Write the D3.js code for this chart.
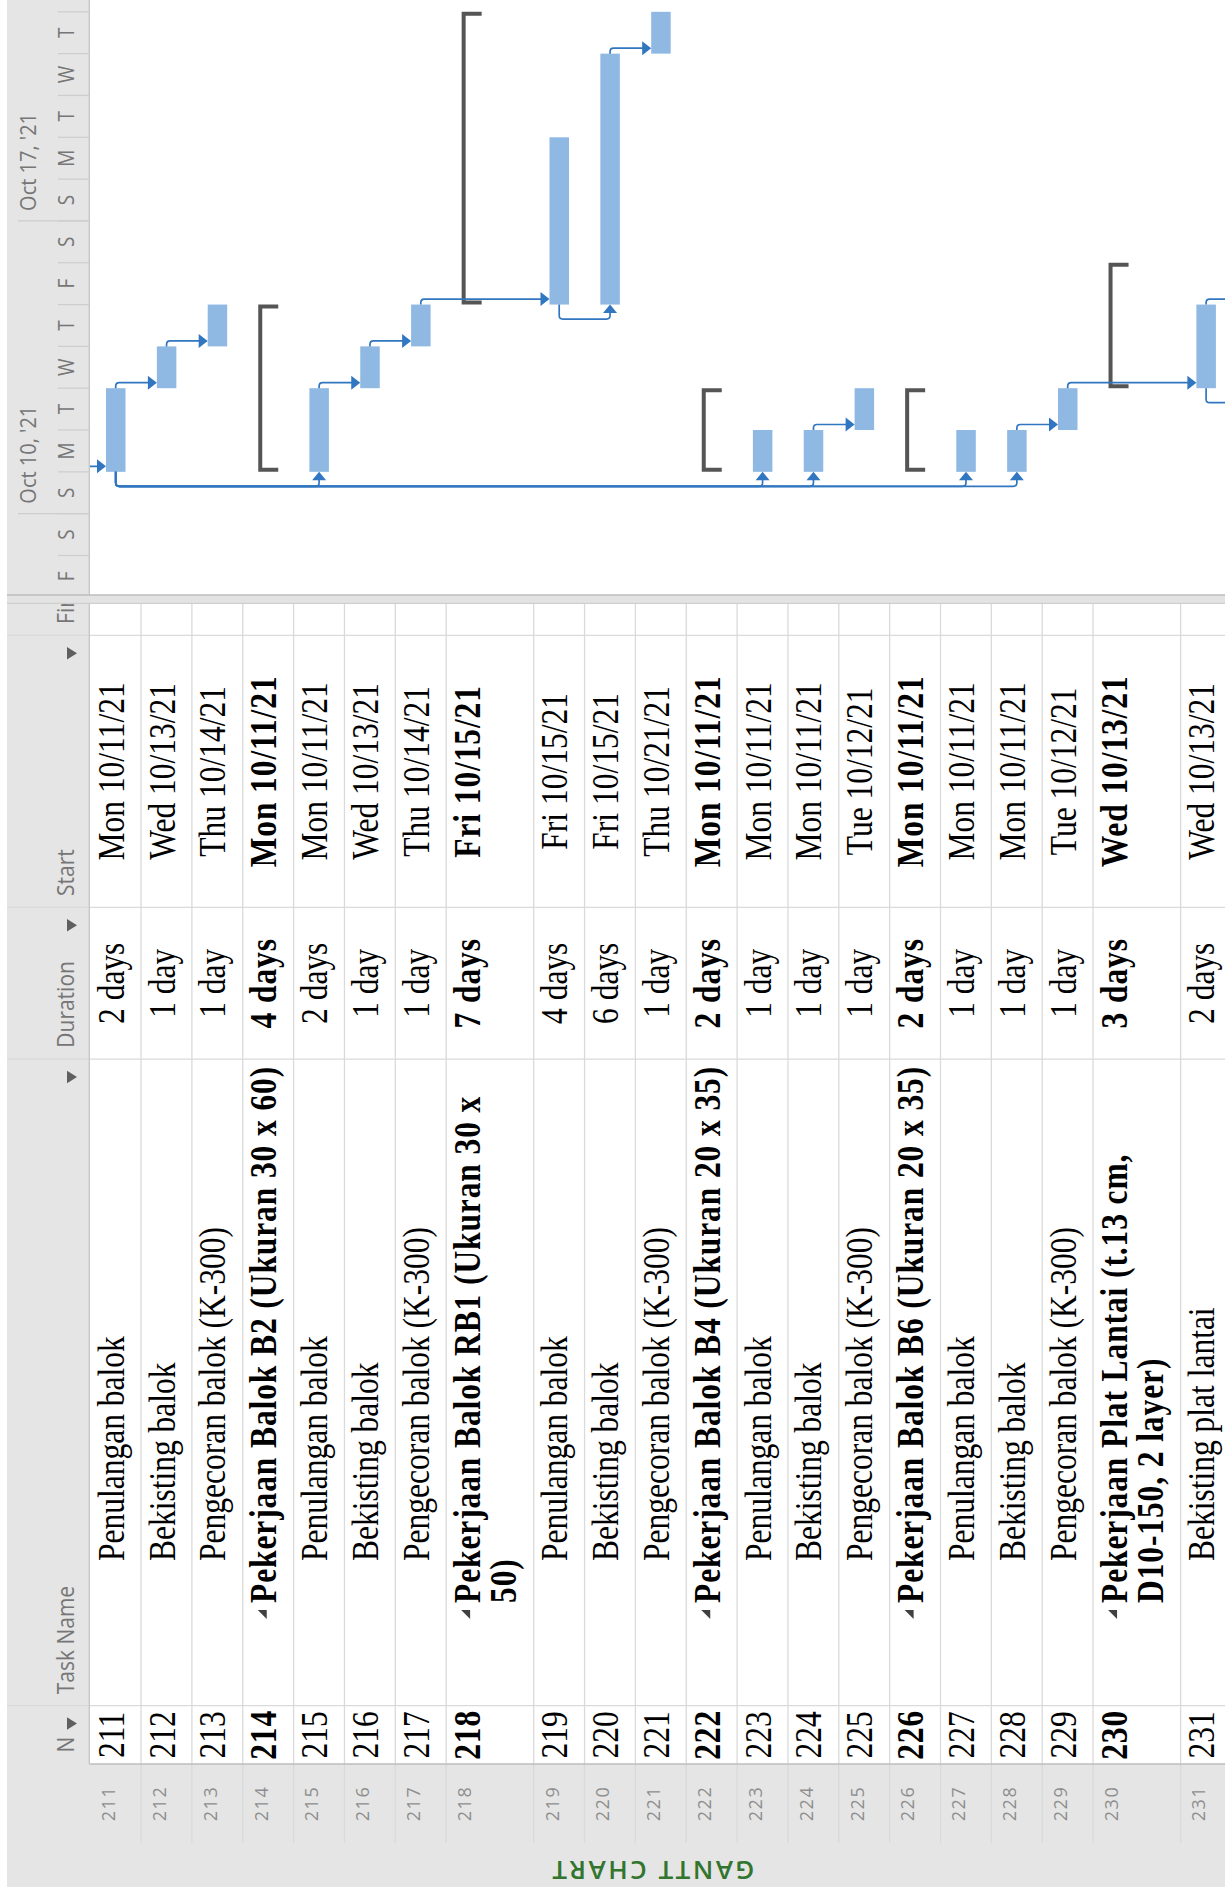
<!DOCTYPE html>
<html>
<head>
<meta charset="utf-8">
<title>Gantt chart</title>
<script src="https://cdn.jsdelivr.net/npm/d3@7"></script>
<style>
  html, body { margin: 0; padding: 0; background: #fff; }
  svg { display: block; }
  .serif { font-family: "Liberation Serif", "Times New Roman", serif; font-size: 31.5px; fill: #000; }
  .bold { font-weight: bold; letter-spacing: 0.9px; }
  .ui { font-family: "Open Sans", "Noto Sans", sans-serif; }
</style>
</head>
<body>
<svg id="chart" width="1225" height="1894"></svg>
<script>
// table rows
const taskIds = [211, 212, 213, 214, 215, 216, 217, 218, 219, 220, 221, 222, 223, 224, 225, 226, 227, 228, 229, 230, 231];
const taskNames = [
  "Penulangan balok", "Bekisting balok", "Pengecoran balok (K-300)",
  "Pekerjaan Balok B2 (Ukuran 30 x 60)", "Penulangan balok", "Bekisting balok", "Pengecoran balok (K-300)",
  "Pekerjaan Balok RB1 (Ukuran 30 x\n50)", "Penulangan balok", "Bekisting balok", "Pengecoran balok (K-300)",
  "Pekerjaan Balok B4 (Ukuran 20 x 35)", "Penulangan balok", "Bekisting balok", "Pengecoran balok (K-300)",
  "Pekerjaan Balok B6 (Ukuran 20 x 35)", "Penulangan balok", "Bekisting balok", "Pengecoran balok (K-300)",
  "Pekerjaan Plat Lantai (t.13 cm,\nD10-150, 2 layer)", "Bekisting plat lantai"
];
const durations = [2, 1, 1, 4, 2, 1, 1, 7, 4, 6, 1, 2, 1, 1, 1, 2, 1, 1, 1, 3, 2];
const startDates = ["10/11/21", "10/13/21", "10/14/21", "10/11/21", "10/11/21", "10/13/21", "10/14/21",
  "10/15/21", "10/15/21", "10/15/21", "10/21/21", "10/11/21", "10/11/21", "10/11/21", "10/12/21",
  "10/11/21", "10/11/21", "10/11/21", "10/12/21", "10/13/21", "10/13/21"];
const summaryIds = [214, 218, 222, 226, 230];

// tasks just outside the visible rows (only their links show)
const offIds = [210, 232, 233];
const offStarts = ["10/08/21", "10/15/21", "10/13/21"];
const offDurations = [3, 1, 1];

// dependency links
const fsLinks = [[210, 211], [211, 212], [212, 213], [215, 216], [216, 217], [217, 219], [220, 221],
  [224, 225], [228, 229], [229, 231], [231, 232]];
const ssLinks = [[211, 215], [211, 223], [211, 224], [211, 227], [211, 228], [219, 220], [231, 233]];

// timescale
const axisStart = "10/08/21", axisEnd = "10/22/21";
const dayLetters = ["F", "S", "S", "M", "T", "W", "T", "F", "S", "S", "M", "T", "W", "T"];
const weekLabels = ["Oct 10, '21", "Oct 17, '21"];
const headerLabels = ["N", "Task Name", "Duration", "Start", "Finish"];

const parseDate = d3.utcParse("%m/%d/%y");
const fmtStart = d3.utcFormat("%a %m/%d/%y");

// screen is drawn upright then turned a quarter to the left
const W = 1894, H = 1225;
const SY = 1.18; // the screenshot is stretched vertically
const FIRST_ROW = 90.2, ROW_H = 50.85, LINE_H = 36.7;
const HEAD_Y0 = 7, HEAD_Y1 = 89.3;
const sideX0 = 7, gutterX0 = 51, idX0 = 130, nameX0 = 188.3, durX0 = 834.8, startX0 = 986.6, finX0 = 1258.6, splitX0 = 1290.7, tlX0 = 1299;
const colStarts = [idX0, nameX0, durX0, startX0, finX0];
const colEnds = [nameX0, durX0, startX0, finX0, 1330];
const GRAY = "#e5e5e5", GRID = "#dadada", BAR = "#8fb9e3", LINK = "#3176c0", UI_TEXT = "#767676";

const svg = d3.select("#chart");
const defs = svg.append("defs");
defs.append("clipPath").attr("id", "clip-tbl").append("rect")
  .attr("x", 0).attr("y", 0).attr("width", splitX0).attr("height", H);
defs.append("clipPath").attr("id", "clip-head").append("rect")
  .attr("x", tlX0).attr("y", 0).attr("width", W - tlX0).attr("height", H);
defs.append("clipPath").attr("id", "clip-tl").append("rect")
  .attr("x", tlX0).attr("y", HEAD_Y1 + 0.7).attr("width", W - tlX0).attr("height", H);

const g = svg.append("g").attr("transform", `translate(0,${W}) rotate(-90)`);

function put(sel, x, y, str, cls, anchor, sy) {
  return sel.append("text").attr("class", cls).attr("text-anchor", anchor || "start")
    .attr("transform", `translate(${x},${y}) scale(1,${sy || SY})`).text(str);
}

// rows with their heights
let yCursor = FIRST_ROW;
const rows = taskIds.map((id, i) => {
  const lines = taskNames[i].split("\n");
  const start = parseDate(startDates[i]);
  const r = { id, lines, dur: durations[i], start, end: d3.utcDay.offset(start, durations[i]),
    summary: summaryIds.includes(id), top: yCursor, h: ROW_H + (lines.length - 1) * LINE_H };
  yCursor += r.h;
  return r;
});
const lastTop = yCursor;
const offRows = offIds.map((id, i) => {
  const start = parseDate(offStarts[i]);
  const top = id < taskIds[0] ? FIRST_ROW - (taskIds[0] - id) * ROW_H
    : lastTop + (id - taskIds[taskIds.length - 1] - 1) * ROW_H;
  return { id, start, end: d3.utcDay.offset(start, offDurations[i]), top };
});
const byId = new Map(rows.concat(offRows).map(r => [r.id, r]));

const x = d3.scaleUtc()
  .domain([parseDate(axisStart), parseDate(axisEnd)])
  .range([1296.7, 1296.7 + 14 * 41.82]);

// backgrounds
g.append("rect").attr("width", W).attr("height", H).attr("fill", "#fff");
g.append("rect").attr("x", sideX0).attr("y", HEAD_Y0).attr("width", W - sideX0).attr("height", HEAD_Y1 - HEAD_Y0).attr("fill", GRAY);
g.append("rect").attr("x", sideX0).attr("y", HEAD_Y0).attr("width", idX0 - sideX0).attr("height", H).attr("fill", GRAY);

// table grid
const tbl = g.append("g").attr("clip-path", "url(#clip-tbl)");
tbl.selectAll(".rowline").data(rows).join("line")
  .attr("x1", gutterX0).attr("x2", splitX0)
  .attr("y1", d => d.top + d.h).attr("y2", d => d.top + d.h)
  .attr("stroke", GRID).attr("stroke-width", 1.3);
tbl.selectAll(".colline").data(colStarts.slice(1)).join("line")
  .attr("x1", d => d).attr("x2", d => d).attr("y1", HEAD_Y0).attr("y2", H)
  .attr("stroke", GRID).attr("stroke-width", 1.3);
tbl.append("line").attr("x1", idX0).attr("x2", idX0).attr("y1", HEAD_Y1).attr("y2", H)
  .attr("stroke", "#bdbdbd").attr("stroke-width", 1.3);
g.append("line").attr("x1", idX0).attr("x2", W).attr("y1", HEAD_Y1).attr("y2", HEAD_Y1)
  .attr("stroke", "#c4c4c4").attr("stroke-width", 1.3);

// column headers
headerLabels.forEach((lab, i) => {
  put(tbl, colStarts[i] + 11.5, 74, lab, "ui", "start", 1.15)
    .style("font-size", "21px").style("fill", UI_TEXT);
  const r = colEnds[i] - 11.5;
  tbl.append("path").attr("d", `M${r - 12.5},67 L${r},67 L${r - 6.25},77 Z`).attr("fill", "#5f5f5f");
});

// cells
const cell = tbl.selectAll(".cell").data(rows).join("g").attr("transform", d => `translate(0,${d.top})`);
cell.each(function (d) {
  const s = d3.select(this);
  const cls = d.summary ? "serif bold" : "serif";
  put(s, (gutterX0 + idX0) / 2, 24.8, d.id, "ui", "middle", 1.05)
    .style("font-size", "18px").style("letter-spacing", "1.5px").style("fill", "#8e8e8e");
  put(s, (idX0 + nameX0) / 2, 33.5, d.id, cls, "middle");
  const nx = d.summary ? 291 : 333;
  d.lines.forEach((ln, k) => put(s, nx, 33.5 + k * LINE_H, ln, cls, "start"));
  if (d.summary) {
    s.append("path").attr("d", "M284,15 L284,24 L275,24 Z").attr("fill", "#404040");
  }
  put(s, (durX0 + startX0) / 2, 33.5, d.dur + (d.dur === 1 ? " day" : " days"), cls, "middle");
  put(s, (startX0 + finX0) / 2, 33.5, fmtStart(d.start), cls, "middle");
});

// splitter
g.append("rect").attr("x", splitX0).attr("y", HEAD_Y0).attr("width", tlX0 - splitX0).attr("height", H)
  .attr("fill", "#e3e3e3");
g.append("line").attr("x1", splitX0).attr("x2", splitX0).attr("y1", HEAD_Y0).attr("y2", H).attr("stroke", "#cfcfcf").attr("stroke-width", 1.3);
g.append("line").attr("x1", tlX0).attr("x2", tlX0).attr("y1", HEAD_Y0).attr("y2", H).attr("stroke", "#bdbdbd").attr("stroke-width", 1.3);

// timescale
const head = g.append("g").attr("clip-path", "url(#clip-head)");
const days = d3.utcDay.range(x.domain()[0], d3.utcDay.offset(x.domain()[1], 1));
const sundays = d3.utcSunday.range(x.domain()[0], x.domain()[1]);
head.selectAll(".dtick").data(days).join("line")
  .attr("x1", d => x(d)).attr("x2", d => x(d)).attr("y1", 58).attr("y2", HEAD_Y1)
  .attr("stroke", "#cdcdcd").attr("stroke-width", 1.2);
head.selectAll(".wtick").data(sundays).join("line")
  .attr("x1", d => x(d)).attr("x2", d => x(d)).attr("y1", 18).attr("y2", HEAD_Y1)
  .attr("stroke", "#cdcdcd").attr("stroke-width", 1.2);
dayLetters.forEach((lab, i) => {
  put(head, x(d3.utcHour.offset(days[i], 12)), 73.5, lab, "ui", "middle", 1.15)
    .style("font-size", "19px").style("fill", UI_TEXT);
});
sundays.forEach((d, i) => {
  put(head, x(d) + 10, 35.5, weekLabels[i], "ui", "start", 1.1)
    .style("font-size", "20px").style("fill", UI_TEXT);
});

// bars, summaries, links
const tl = g.append("g").attr("clip-path", "url(#clip-tl)");
tl.selectAll(".bar").data(rows.filter(d => !d.summary)).join("rect")
  .attr("x", d => x(d.start)).attr("width", d => x(d.end) - x(d.start))
  .attr("y", d => d.top + 15.8).attr("height", 19.5)
  .attr("fill", BAR);
tl.selectAll(".sum").data(rows.filter(d => d.summary)).join("path")
  .attr("d", d => {
    const a = x(d.start), b = x(d.end), t = d.top + 15.5;
    return `M${a},${t} H${b} V${t + 20} H${b - 4} V${t + 4} H${a + 4} V${t + 20} H${a} Z`;
  })
  .attr("fill", "#555");

const r = 3.5;
fsLinks.forEach(([p, q]) => {
  const a = byId.get(p), b = byId.get(q);
  const xe = x(a.end), cy = a.top + 25.5, xd = xe + 5.5, ty = b.top + 15.8;
  tl.append("path").attr("d", `M${xe},${cy} H${xd - r} Q${xd},${cy} ${xd},${cy + r} V${ty - 8}`)
    .attr("fill", "none").attr("stroke", LINK).attr("stroke-width", 1.7);
  tl.append("path").attr("d", `M${xd - 7},${ty - 9} L${xd + 7},${ty - 9} L${xd},${ty} Z`).attr("fill", LINK);
});
ssLinks.forEach(([p, q]) => {
  const a = byId.get(p), b = byId.get(q);
  const xs = x(a.start), cy = a.top + 25.5, xl = xs - 14.5, cy2 = b.top + 25.5, xt = x(b.start);
  tl.append("path")
    .attr("d", `M${xs},${cy} H${xl + r} Q${xl},${cy} ${xl},${cy + r} V${cy2 - r} Q${xl},${cy2} ${xl + r},${cy2} H${xt - 8}`)
    .attr("fill", "none").attr("stroke", LINK).attr("stroke-width", 1.7);
  tl.append("path").attr("d", `M${xt - 8.5},${cy2 - 7} L${xt - 8.5},${cy2 + 7} L${xt},${cy2} Z`).attr("fill", LINK);
});

// side label
g.append("text").attr("class", "ui")
  .attr("transform", `translate(33,652) rotate(-90)`)
  .attr("text-anchor", "middle")
  .style("font-size", "26px").style("font-weight", "600").style("letter-spacing", "2.5px").style("fill", "#31752f")
  .text("GANTT CHART");
</script>
</body>
</html>
